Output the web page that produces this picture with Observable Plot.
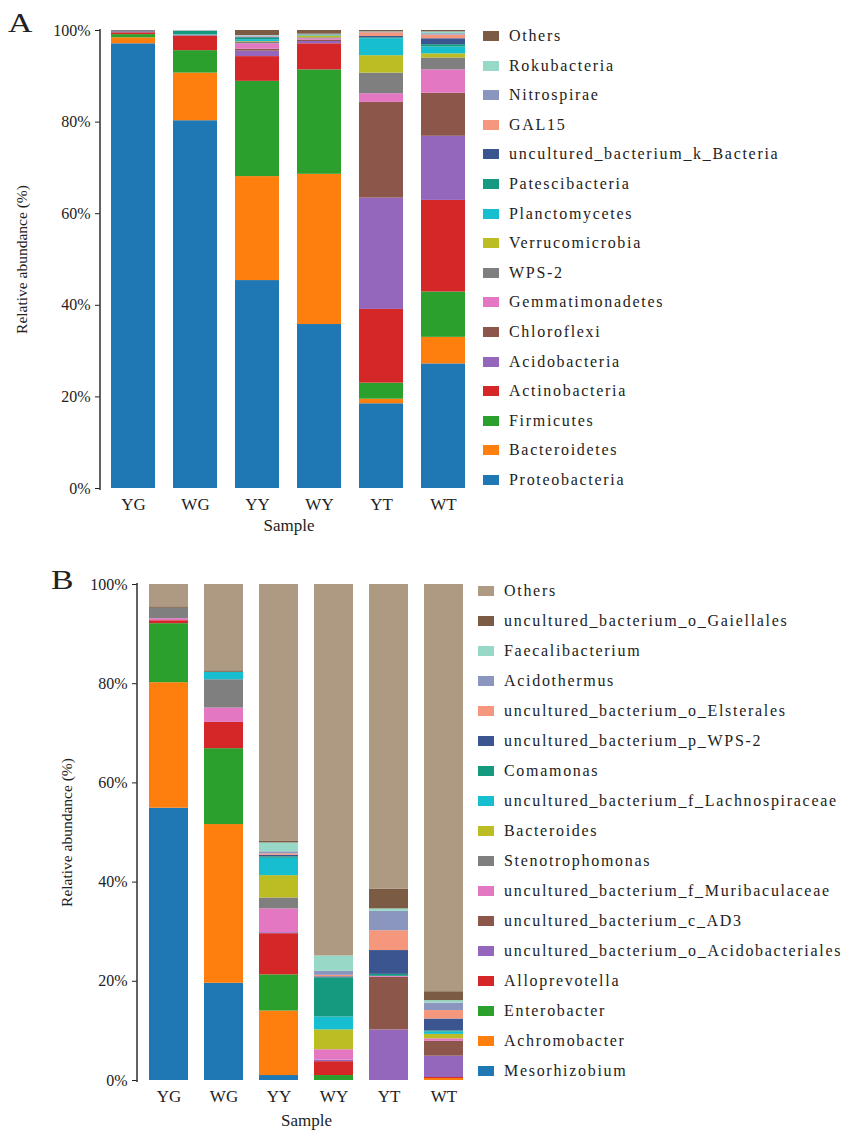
<!DOCTYPE html>
<html>
<head>
<meta charset="utf-8">
<script src="https://cdn.jsdelivr.net/npm/d3@7"></script>
<script src="https://cdn.jsdelivr.net/npm/@observablehq/plot@0.6"></script>
<style>
  html, body { margin: 0; padding: 0; background: #fff; }
  #root { position: relative; width: 851px; height: 1143px; overflow: hidden; font-family: "Liberation Serif", serif; color: #222; }
  .panel { position: absolute; left: 0; }
  .letter { position: absolute; font-family: "Liberation Serif", serif; font-size: 27px; transform: scaleX(1.25); transform-origin: left top; line-height: 1; }
  .lg-row { position: absolute; height: 20px; display: flex; align-items: center; white-space: nowrap; }
  .lg-sw { width: 16px; height: 10px; margin-right: 10px; }
  .lg-tx { font-family: "Liberation Serif", serif; font-size: 16px; letter-spacing: 1.7px; }
  svg text { font-family: "Liberation Serif", serif !important; }
</style>
</head>
<body>
<div id="root"></div>
<script>
// ---------- shared ----------
const samples = ["YG", "WG", "YY", "WY", "YT", "WT"];
const yTicks = [0, 20, 40, 60, 80, 100];
const serif = "Liberation Serif, serif";

// ---------- Panel A : phylum level (bottom -> top) ----------
const phylaA = ["Proteobacteria", "Bacteroidetes", "Firmicutes", "Actinobacteria", "Acidobacteria",
  "Chloroflexi", "Gemmatimonadetes", "WPS-2", "Verrucomicrobia", "Planctomycetes", "Patescibacteria",
  "uncultured_bacterium_k_Bacteria", "GAL15", "Nitrospirae", "Rokubacteria", "Others"];
const colorsA = ["#1f77b4", "#ff7f0e", "#2ca02c", "#d62728", "#9467bd", "#8c564b", "#e377c2", "#7f7f7f",
  "#bcbd22", "#17becf", "#159a80", "#3a5590", "#f4977c", "#8b96bf", "#98d8c6", "#7b5b44"];
// relative abundance (%) per sample, same order as phylaA
const phylumYG = [97.1, 1.3, 0.7, 0.4, 0.1, 0.1, 0, 0, 0, 0, 0, 0.2, 0, 0, 0, 0.1];
const phylumWG = [80.3, 10.4, 4.9, 3.1, 0.1, 0.1, 0, 0.1, 0, 0.1, 0.7, 0.05, 0.05, 0.05, 0.05, 0];
const phylumYY = [45.4, 22.7, 20.8, 5.4, 1.2, 0.4, 1.2, 0.4, 0.1, 0.4, 0.4, 0.1, 0.1, 0.2, 0.1, 1.1];
const phylumWY = [35.8, 32.8, 22.8, 5.7, 0.5, 0.3, 0.3, 0.2, 0.4, 0.1, 0.1, 0.05, 0.05, 0.05, 0.05, 0.8];
const phylumYT = [18.5, 1.0, 3.5, 16.1, 24.3, 20.9, 1.9, 4.5, 3.8, 3.7, 0.2, 0.3, 0.8, 0.1, 0.1, 0.3];
const phylumWT = [27.2, 5.8, 9.9, 20.0, 14.0, 9.4, 5.1, 2.6, 0.9, 1.5, 0.5, 1.3, 0.8, 0.3, 0.4, 0.3];

// ---------- Panel B : genus level (bottom -> top) ----------
const generaB = ["Mesorhizobium", "Achromobacter", "Enterobacter", "Alloprevotella",
  "uncultured_bacterium_o_Acidobacteriales", "uncultured_bacterium_c_AD3", "uncultured_bacterium_f_Muribaculaceae",
  "Stenotrophomonas", "Bacteroides", "uncultured_bacterium_f_Lachnospiraceae", "Comamonas",
  "uncultured_bacterium_p_WPS-2", "uncultured_bacterium_o_Elsterales", "Acidothermus", "Faecalibacterium",
  "uncultured_bacterium_o_Gaiellales", "Others"];
const colorsB = ["#1f77b4", "#ff7f0e", "#2ca02c", "#d62728", "#9467bd", "#8c564b", "#e377c2", "#7f7f7f",
  "#bcbd22", "#17becf", "#159a80", "#3a5590", "#f4977c", "#8b96bf", "#98d8c6", "#7b5b44", "#ae9a82"];
const genusYG = [54.9, 25.3, 11.9, 0.6, 0, 0, 0.4, 2.1, 0, 0, 0, 0, 0, 0, 0, 0.3, 4.5];
const genusWG = [19.6, 32.0, 15.3, 5.3, 0, 0, 2.9, 5.7, 0, 1.5, 0, 0, 0, 0, 0, 0.3, 17.4];
const genusYY = [1.0, 13.0, 7.3, 8.3, 0.2, 0, 4.8, 2.2, 4.5, 3.5, 0.3, 0.3, 0.3, 0.4, 1.8, 0.4, 51.7];
const genusWY = [0, 0, 1.0, 2.8, 0.3, 0, 2.1, 0, 4.0, 2.6, 7.9, 0.2, 0.3, 0.8, 3.1, 0, 74.9];
const genusYT = [0, 0, 0, 0, 10.2, 10.6, 0.2, 0, 0, 0, 0.4, 4.8, 4.0, 3.9, 0.5, 4.0, 61.4];
const genusWT = [0, 0.4, 0, 0.2, 4.3, 3.0, 0.5, 0, 0.9, 0.5, 0.2, 2.4, 1.7, 1.5, 0.5, 1.8, 82.1];

// ---------- build tables ----------
function buildTable(taxa, perSample) {
  const rows = [];
  samples.forEach((s, i) => taxa.forEach((t, j) => rows.push({ sample: s, taxon: t, value: perSample[i][j] })));
  return rows;
}
const dataA = buildTable(phylaA, [phylumYG, phylumWG, phylumYY, phylumWY, phylumYT, phylumWT]);
const dataB = buildTable(generaB, [genusYG, genusWG, genusYY, genusWY, genusYT, genusWT]);

const axisLine = (index, scales, values, dims) => {
  const l = document.createElementNS("http://www.w3.org/2000/svg", "line");
  l.setAttribute("x1", dims.marginLeft); l.setAttribute("x2", dims.marginLeft);
  l.setAttribute("y1", scales.y(100) - 1); l.setAttribute("y2", scales.y(0) + 2);
  l.setAttribute("stroke", "#3a3a3a"); l.setAttribute("stroke-width", 1.6);
  return l;
};

function panel({ data, taxa, colors, width, height, marginLeft, marginRight, marginTop, marginBottom, ylabelDx, xlabelDy }) {
  return Plot.plot({
    width, height, marginLeft, marginRight, marginTop, marginBottom,
    style: { fontFamily: serif, fontSize: "16px", color: "#222", background: "white", overflow: "visible" },
    x: { domain: samples, paddingInner: 0.29, paddingOuter: 0.18, label: null },
    y: { domain: [0, 100], label: null },
    color: { domain: taxa, range: colors },
    marks: [
      Plot.barY(data, { x: "sample", y: "value", fill: "taxon" }),
      Plot.axisY({ ticks: yTicks, tickFormat: d => d + "%", tickSize: 5, tickPadding: 5, fontSize: 16, fontFamily: serif, label: null, style: "letter-spacing:1.5px" }),
      Plot.axisX({ tickSize: 0, tickPadding: 9, fontSize: 17, fontFamily: serif, label: null, style: "letter-spacing:1.5px" }),
      axisLine,
      Plot.text(["Sample"], { frameAnchor: "bottom", dy: xlabelDy, fontSize: 17, fontFamily: serif, lineAnchor: "middle", text: d => d, style: "letter-spacing:1.2px" }),
      Plot.text(["Relative abundance (%)"], { frameAnchor: "left", dx: ylabelDx, rotate: -90, fontSize: 15.5, fontFamily: serif, textAnchor: "middle", lineAnchor: "middle", text: d => d })
    ]
  });
}

const root = document.getElementById("root");

function addPanel(svg, top) {
  const wrap = document.createElement("div");
  wrap.className = "panel";
  wrap.style.top = top + "px";
  wrap.appendChild(svg);
  root.appendChild(wrap);
}

addPanel(panel({ data: dataA, taxa: phylaA, colors: colorsA, width: 480, height: 540,
  marginLeft: 100, marginRight: 3, marginTop: 30, marginBottom: 52, ylabelDx: -78, xlabelDy: 37 }), 0);
addPanel(panel({ data: dataB, taxa: generaB, colors: colorsB, width: 480, height: 598,
  marginLeft: 137, marginRight: 5, marginTop: 39, marginBottom: 63, ylabelDx: -70, xlabelDy: 40 }), 545);

function addLetter(txt, left, top) {
  const d = document.createElement("div");
  d.className = "letter"; d.textContent = txt;
  d.style.left = left + "px"; d.style.top = top + "px";
  root.appendChild(d);
}
addLetter("A", 8, 10);
addLetter("B", 51, 567);

function addLegend(taxa, colors, swLeft, firstY, step) {
  const items = taxa.map((t, i) => ({ t, c: colors[i] })).reverse();
  items.forEach((it, k) => {
    const row = document.createElement("div");
    row.className = "lg-row";
    row.style.left = swLeft + "px";
    row.style.top = (firstY + k * step - 10) + "px";
    const sw = document.createElement("div");
    sw.className = "lg-sw"; sw.style.background = it.c;
    const tx = document.createElement("span");
    tx.className = "lg-tx"; tx.textContent = it.t;
    row.appendChild(sw); row.appendChild(tx);
    root.appendChild(row);
  });
}
addLegend(phylaA, colorsA, 483, 36, 29.6);
addLegend(generaB, colorsB, 478, 591, 30);
</script>
</body>
</html>
